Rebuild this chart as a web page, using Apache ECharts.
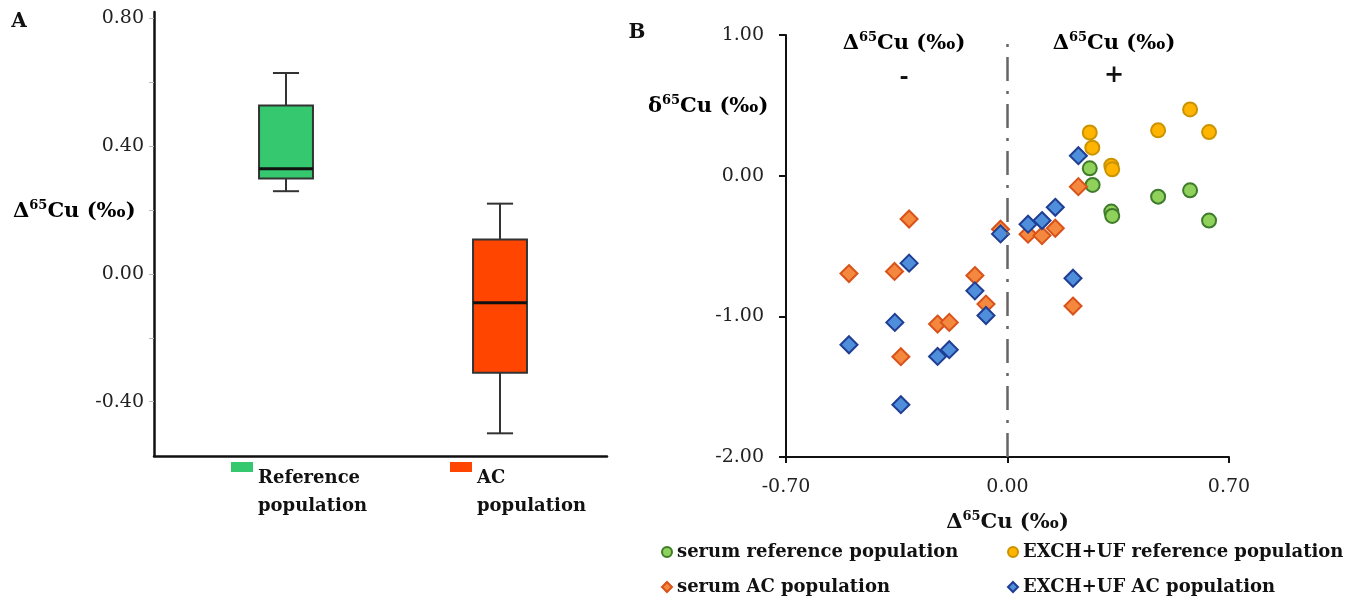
<!DOCTYPE html>
<html><head><meta charset="utf-8">
<script src="https://cdn.jsdelivr.net/npm/echarts@6/dist/echarts.min.js"></script>
<style>html,body{margin:0;padding:0;background:#fff}#c{width:1356px;height:602px}</style>
</head><body><div id="c"></div>
<script>
// ---------- Panel A data (box plots: min, Q1, median, Q3, max) ----------
const boxCategories = ['Reference population', 'AC population'];
const refBox = [0.259, 0.299, 0.329, 0.527, 0.629];
const acBox = [-0.499, -0.309, -0.090, 0.108, 0.220];
const boxLabelValues = [-0.4, 0, 0.4, 0.8];
const boxTickValues = [-0.4, -0.2, 0, 0.2, 0.4, 0.6, 0.8];

// ---------- Panel B data ([Δ65Cu, δ65Cu]) ----------
const serumReference = [[0.260, 0.052], [0.269, -0.066], [0.328, -0.255], [0.331, -0.286], [0.476, -0.149], [0.577, -0.104], [0.637, -0.319]];
const exchReference = [[0.260, 0.307], [0.268, 0.199], [0.328, 0.071], [0.331, 0.045], [0.476, 0.322], [0.577, 0.471], [0.637, 0.310]];
const serumAC = [[-0.501, -0.696], [-0.357, -0.681], [-0.311, -0.308], [-0.337, -1.287], [-0.221, -1.055], [-0.184, -1.043], [-0.103, -0.710], [-0.068, -0.913], [-0.022, -0.381], [0.065, -0.416], [0.109, -0.426], [0.151, -0.374], [0.224, -0.078], [0.207, -0.927]];
const exchAC = [[-0.501, -1.202], [-0.356, -1.043], [-0.311, -0.622], [-0.337, -1.628], [-0.221, -1.285], [-0.184, -1.237], [-0.103, -0.819], [-0.068, -0.994], [-0.022, -0.414], [0.065, -0.345], [0.109, -0.319], [0.151, -0.225], [0.224, 0.142], [0.207, -0.729]];

const FONT = 'DejaVu Serif';
const chart = echarts.init(document.getElementById('c'));

function renderBox(params, api) {
  const cat = api.value(0);
  const band = api.size([1, 0])[0];
  const half = band * 0.126;
  const capHalf = band * 0.061;
  const pMin = api.coord([cat, api.value(1)]);
  const pQ1 = api.coord([cat, api.value(2)]);
  const pMed = api.coord([cat, api.value(3)]);
  const pQ3 = api.coord([cat, api.value(4)]);
  const pMax = api.coord([cat, api.value(5)]);
  const cx = pMed[0];
  const stroke = '#333';
  const ls = { stroke: stroke, lineWidth: 2 };
  return {
    type: 'group',
    children: [
      { type: 'line', shape: { x1: cx, y1: pMax[1], x2: cx, y2: pQ3[1] }, style: ls },
      { type: 'line', shape: { x1: cx, y1: pQ1[1], x2: cx, y2: pMin[1] }, style: ls },
      { type: 'line', shape: { x1: cx - capHalf, y1: pMax[1], x2: cx + capHalf, y2: pMax[1] }, style: ls },
      { type: 'line', shape: { x1: cx - capHalf, y1: pMin[1], x2: cx + capHalf, y2: pMin[1] }, style: ls },
      { type: 'rect', shape: { x: cx - half, y: pQ3[1], width: 2 * half, height: pQ1[1] - pQ3[1] },
        style: { fill: api.visual('color'), stroke: stroke, lineWidth: 2 } },
      { type: 'line', shape: { x1: cx - half, y1: pMed[1], x2: cx + half, y2: pMed[1] }, style: { stroke: '#111', lineWidth: 3 } }
    ]
  };
}

const labelStyle = { fontFamily: FONT, fontSize: 19, color: '#222' };
const legendText = { fontFamily: FONT, fontWeight: 'bold', fontSize: 18, color: '#111' };
const boxLegendText = { fontFamily: FONT, fontWeight: 'bold', fontSize: 18, color: '#111', lineHeight: 28 };
// swatch drawn in the upper part of a tall icon box so that it sits beside the first text line
const boxLegendIcon = 'path://M0,0h0.01M0,2h22v10h-22zM0,64h0.01';

const richDelta = {
  m: { fontFamily: FONT, fontWeight: 'bold', fontSize: 21, color: '#111', lineHeight: 26 },
  s: { fontFamily: FONT, fontWeight: 'bold', fontSize: 13, color: '#111', lineHeight: 13, verticalAlign: 'top' }
};
const deltaLabel = (sym) => '{m|' + sym + '}{s|65}{m|Cu (‰)}';

function scatterSeries(name, data, symbol, size, fill, border) {
  return {
    name: name, type: 'scatter', xAxisIndex: 2, yAxisIndex: 2, data: data,
    symbol: symbol, symbolSize: size,
    itemStyle: { color: fill, borderColor: border, borderWidth: 2, opacity: 1 },
    emphasis: { disabled: true }
  };
}

const richText = (x, y, text, align) => ({
  type: 'text', x: x, y: y,
  style: { text: text, rich: richDelta, align: align || 'left', verticalAlign: 'middle' }
});
const plainText = (x, y, text, size) => ({
  type: 'text', x: x, y: y,
  style: { text: text, font: 'bold ' + size + 'px "' + FONT + '"', fill: '#111', align: 'center', verticalAlign: 'middle' }
});

chart.setOption({
  animation: false,
  backgroundColor: '#fff',
  grid: [
    { left: 154, top: 12, width: 453, height: 444 },
    { left: 179, top: 12, width: 428, height: 444 },
    { left: 786, top: 35, width: 443, height: 422 }
  ],
  xAxis: [
    { gridIndex: 0, type: 'value', min: 0, max: 1,
      axisLine: { show: true, onZero: false, lineStyle: { color: '#111', width: 2.5 } },
      axisTick: { show: false }, axisLabel: { show: false }, splitLine: { show: false } },
    { gridIndex: 1, type: 'category', data: boxCategories, show: false },
    { gridIndex: 2, type: 'value', min: -0.7, max: 0.7, interval: 0.7,
      axisLine: { show: true, onZero: false, lineStyle: { color: '#111', width: 2 } },
      axisTick: { show: true, length: 6, lineStyle: { color: '#111', width: 2 } },
      axisLabel: { ...labelStyle, margin: 21, formatter: v => v.toFixed(2) },
      splitLine: { show: false },
      name: deltaLabel('Δ'), nameLocation: 'middle', nameGap: 53,
      nameTextStyle: { rich: richDelta } }
  ],
  yAxis: [
    { gridIndex: 0, type: 'value', min: -0.57, max: 0.82,
      axisLine: { show: true, onZero: false, lineStyle: { color: '#111', width: 2.5 } },
      axisTick: { show: true, length: 5, customValues: boxTickValues, lineStyle: { color: '#bbb', width: 1 } },
      axisLabel: { ...labelStyle, margin: 10, customValues: boxLabelValues, formatter: v => v.toFixed(2) },
      splitLine: { show: false } },
    { gridIndex: 1, type: 'value', min: -0.57, max: 0.82, show: false },
    { gridIndex: 2, type: 'value', min: -2, max: 1, interval: 1,
      axisLine: { show: true, onZero: false, lineStyle: { color: '#111', width: 2 } },
      axisTick: { show: true, length: 7, lineStyle: { color: '#111', width: 2 } },
      axisLabel: { ...labelStyle, margin: 22, formatter: v => v.toFixed(2) },
      splitLine: { show: false } }
  ],
  legend: [
    { data: [{ name: 'Reference population', icon: boxLegendIcon }], left: 231, top: 460, padding: 0, itemWidth: 22, itemHeight: 64,
      formatter: () => 'Reference\npopulation', textStyle: boxLegendText, selectedMode: false },
    { data: [{ name: 'AC population', icon: boxLegendIcon }], left: 450, top: 460, padding: 0, itemWidth: 22, itemHeight: 64,
      formatter: () => 'AC\npopulation', textStyle: boxLegendText, selectedMode: false },
    { data: ['serum reference population'], left: 661, top: 543, padding: 0, itemWidth: 10, itemHeight: 10, textStyle: legendText, selectedMode: false },
    { data: ['EXCH+UF reference population'], left: 1007, top: 543, padding: 0, itemWidth: 10, itemHeight: 10, textStyle: legendText, selectedMode: false },
    { data: ['serum AC population'], left: 661, top: 578, padding: 0, itemWidth: 10, itemHeight: 10, textStyle: legendText, selectedMode: false },
    { data: ['EXCH+UF AC population'], left: 1007, top: 578, padding: 0, itemWidth: 10, itemHeight: 10, textStyle: legendText, selectedMode: false }
  ],
  series: [
    { name: 'Reference population', type: 'custom', xAxisIndex: 1, yAxisIndex: 1,
      itemStyle: { color: '#35C86E' }, renderItem: renderBox,
      encode: { x: 0, y: [1, 2, 3, 4, 5] }, data: [[boxCategories[0], ...refBox]] },
    { name: 'AC population', type: 'custom', xAxisIndex: 1, yAxisIndex: 1,
      itemStyle: { color: '#FF4500' }, renderItem: renderBox,
      encode: { x: 0, y: [1, 2, 3, 4, 5] }, data: [[boxCategories[1], ...acBox]] },
    Object.assign(scatterSeries('serum reference population', serumReference, 'circle', 14, '#8FD15A', '#3E7B2B'), {
      markLine: { silent: true, symbol: 'none', label: { show: false },
        lineStyle: { color: '#666', width: 2.5, type: [24, 10, 3, 10] },
        data: [{ xAxis: 0 }] }
    }),
    scatterSeries('EXCH+UF reference population', exchReference, 'circle', 14, '#FFB400', '#CC9300'),
    scatterSeries('serum AC population', serumAC, 'diamond', 17, '#F4883E', '#D8521A'),
    scatterSeries('EXCH+UF AC population', exchAC, 'diamond', 17, '#4F8EDB', '#1F3E93')
  ],
  graphic: [
    plainText(19, 22, 'A', 20),
    richText(13, 212, deltaLabel('Δ'), 'left'),
    plainText(637, 33, 'B', 20),
    richText(648, 107, deltaLabel('δ'), 'left'),
    richText(904, 44, deltaLabel('Δ'), 'center'),
    plainText(904, 78, '-', 22),
    richText(1114, 44, deltaLabel('Δ'), 'center'),
    plainText(1114, 76, '+', 24)
  ]
});
</script>
</body></html>
